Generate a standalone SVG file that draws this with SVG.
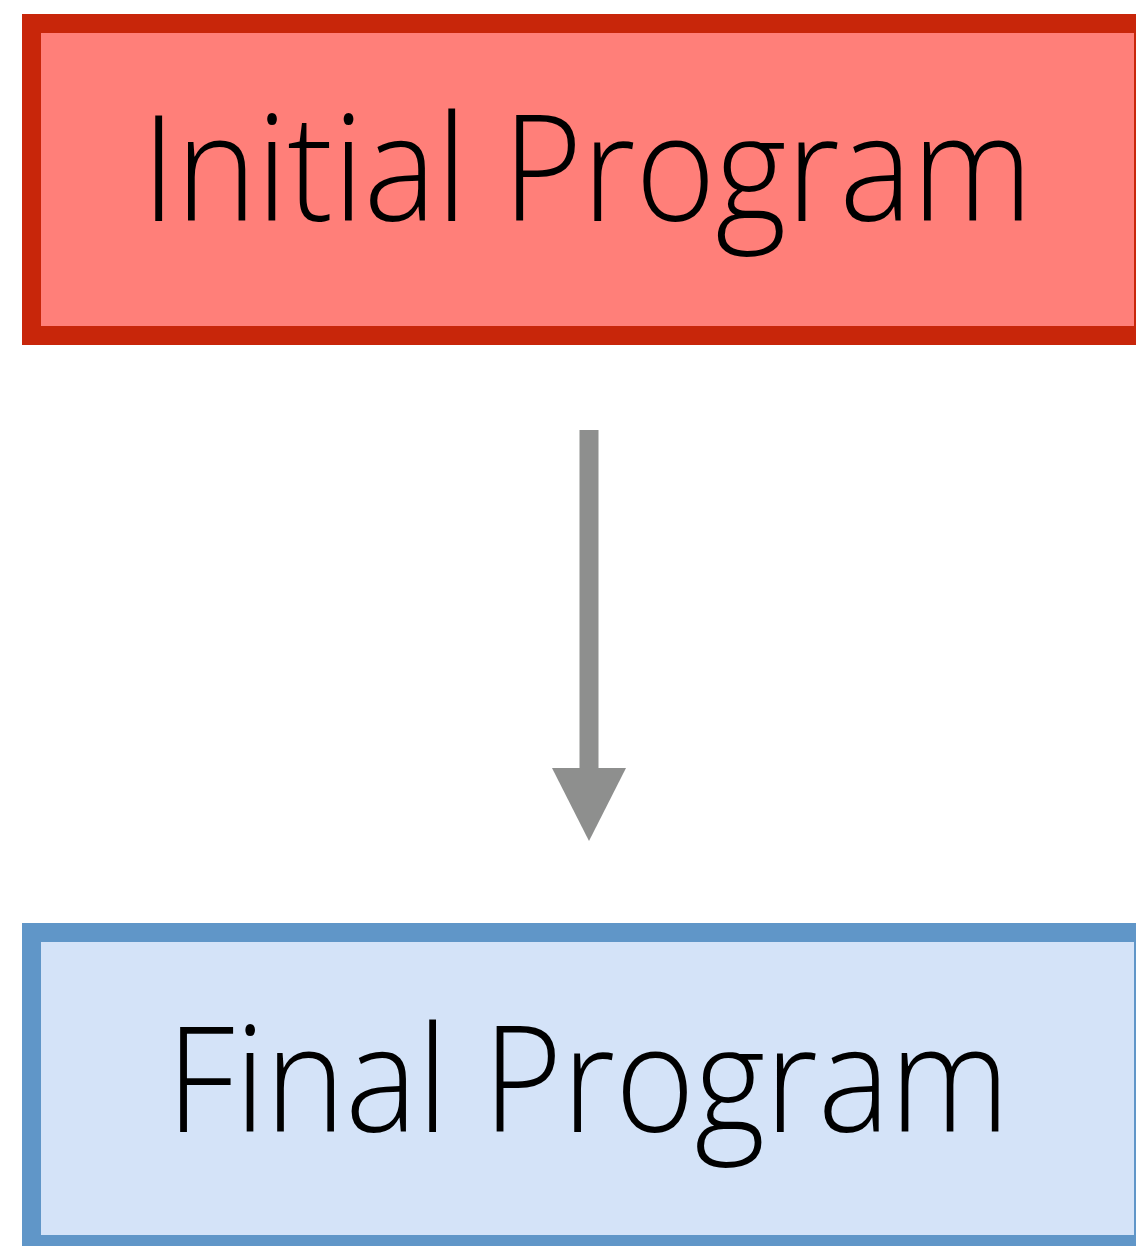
<svg xmlns="http://www.w3.org/2000/svg" width="1136" height="1246" viewBox="0 0 1136 1246">
  <style>
    .label { font-family: "Open Sans", "Noto Sans", "Liberation Sans", sans-serif; font-weight: 300; font-size: 148px; fill: #000; text-anchor: middle; }
    .box { stroke-width: 19; }
    .start { fill: #ff7f79; stroke: #c8260a; }
    .end { fill: #d4e3f8; stroke: #6096c8; }
    .flow { stroke: #8e8f8e; stroke-width: 19; fill: none; }
  </style>
  <defs>
    <marker id="arrowhead" markerUnits="userSpaceOnUse" markerWidth="74" markerHeight="74" refX="0" refY="37" orient="auto" viewBox="0 0 74 74">
      <path d="M0,0 L73,37 L0,74 Z" fill="#8e8f8e"/>
    </marker>
  </defs>
  <rect width="1136" height="1246" fill="#ffffff"/>
  <g id="initial-program">
    <rect class="box start" x="31.5" y="23.5" width="1112" height="312"/>
    <text class="label" x="587" y="221" textLength="891" lengthAdjust="spacingAndGlyphs">Initial Program</text>
  </g>
  <g id="final-program">
    <rect class="box end" x="31.5" y="932.5" width="1112" height="312"/>
    <text class="label" x="588" y="1132" textLength="843" lengthAdjust="spacingAndGlyphs">Final Program</text>
  </g>
  <g id="connectors">
    <path class="flow" d="M589,430 L589,768" marker-end="url(#arrowhead)"/>
  </g>
</svg>
